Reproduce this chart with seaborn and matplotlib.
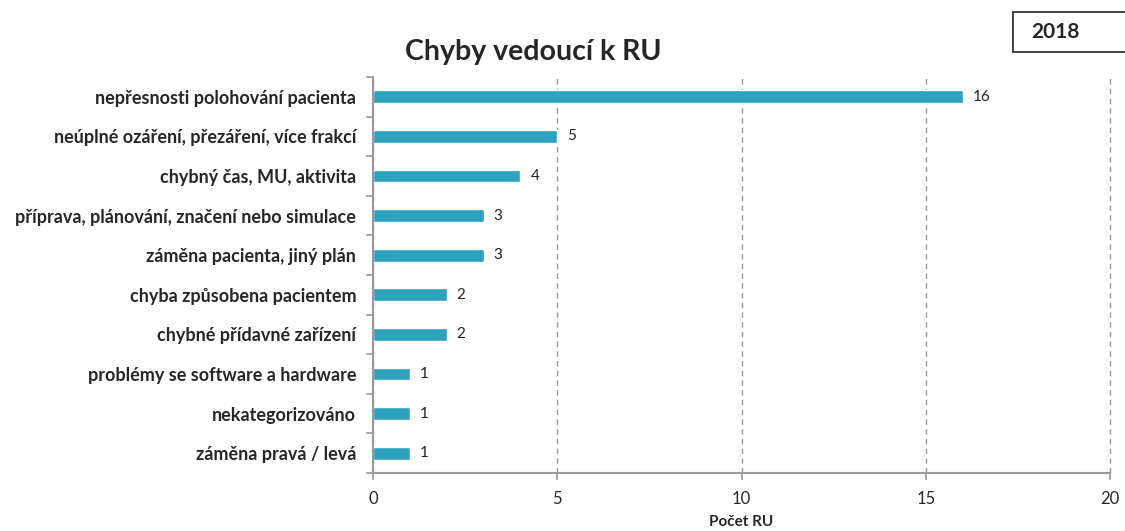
import seaborn as sns
import matplotlib.pyplot as plt
from matplotlib.ticker import FixedLocator
from matplotlib.patches import Rectangle
import pandas as pd
import numpy as np

categories = [
    "nepřesnosti polohování pacienta",
    "neúplné ozáření, přezáření, více frakcí",
    "chybný čas, MU, aktivita",
    "příprava, plánování, značení nebo simulace",
    "záměna pacienta, jiný plán",
    "chyba způsobena pacientem",
    "chybné přídavné zařízení",
    "problémy se software a hardware",
    "nekategorizováno",
    "záměna pravá / levá",
]
counts = [16, 5, 4, 3, 3, 2, 2, 1, 1, 1]
x_ticks = [0, 5, 10, 15, 20]

df = pd.DataFrame({"kategorie": categories, "pocet": counts})

sns.set_style("white")
plt.rcParams['font.family'] = ['Lato', 'DejaVu Sans']

W, H = 1125, 531
fig = plt.figure(figsize=(W / 100, H / 100), dpi=100)
ax = fig.add_axes([373 / W, 1 - 473 / H, (1110 - 373) / W, (473 - 77) / H])

sns.barplot(data=df, x="pocet", y="kategorie", color="#2EA3C0", width=0.32,
            saturation=1, ax=ax, orient="h")

for i, v in enumerate(counts):
    ax.text(v + 0.27, i, str(v), va="center", ha="left", fontsize=11, color="#222222")

ax.set_xlim(0, 20)
ax.set_ylim(len(categories) - 0.5, -0.5)
ax.set_xticks(x_ticks)
ax.set_xticklabels([str(t) for t in x_ticks], fontsize=12)
ax.xaxis.grid(True, color="#999999", linestyle=(0, (4, 3)), linewidth=1)
for gl in ax.get_xgridlines():
    gl.set_clip_on(False)
ax.set_axisbelow(True)

ax.yaxis.set_minor_locator(FixedLocator(np.arange(-0.5, len(categories), 1)))
ax.tick_params(axis="y", which="major", length=0, pad=12, labelsize=13)
ax.tick_params(axis="y", which="minor", length=5, color="#999999", width=1.2, left=True)
ax.tick_params(axis="x", which="major", length=5, color="#999999", width=1.2, bottom=True, pad=8)
for lbl in ax.get_yticklabels():
    lbl.set_fontweight("bold")

for side in ["top", "right"]:
    ax.spines[side].set_visible(False)
for side in ["left", "bottom"]:
    ax.spines[side].set_color("#999999")
    ax.spines[side].set_linewidth(1.5)

ax.set_ylabel("")
ax.set_xlabel("Počet RU", fontsize=11, fontweight="bold", labelpad=6)

fig.text(533 / W, 1 - 52 / H, "Chyby vedoucí k RU", ha="center", va="center",
         fontsize=20.5, fontweight="bold")
fig.patches.append(Rectangle((1013 / W, 1 - 52 / H), 120 / W, 40 / H,
                             transform=fig.transFigure, facecolor="white",
                             edgecolor="#333333", linewidth=1.3))
fig.text(1055 / W, 1 - 32 / H, "2018", ha="center", va="center", fontsize=15, fontweight="bold")

fig.savefig("out.png", dpi=100)
